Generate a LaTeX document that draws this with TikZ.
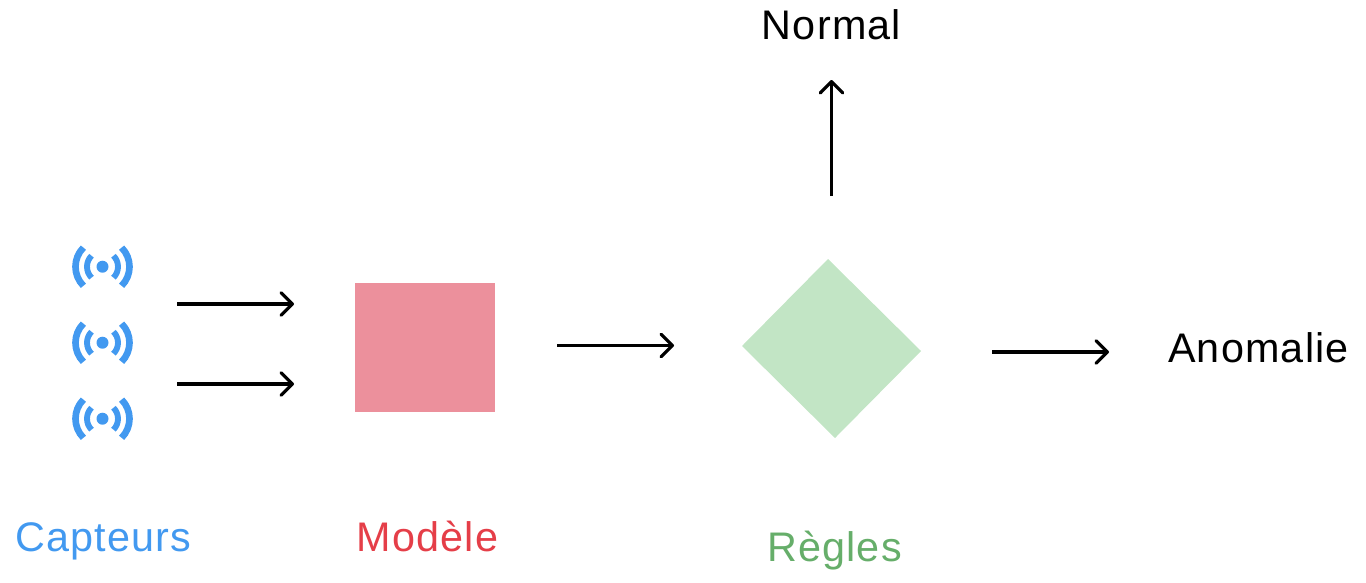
\documentclass[tikz,border=0pt]{standalone}
\usepackage{fontspec}
\setmainfont[LetterSpace=3]{Liberation Sans}
\usetikzlibrary{arrows.meta}
\definecolor{iconblue}{HTML}{4299F0}
\definecolor{squarered}{HTML}{EC909C}
\definecolor{textred}{HTML}{E53E48}
\definecolor{diagreen}{HTML}{C2E5C5}
\definecolor{textgreen}{HTML}{66AE6A}
\tikzset{
  flow/.style={line width=2.4pt,-{Straight Barb[length=8.6pt,width=17pt,line width=2.4pt,round]}},
  lab/.style={inner sep=0pt,anchor=base,font=\fontsize{31pt}{36pt}\selectfont},
  iconpart/.style={draw=iconblue,line cap=butt},
  pics/signal/.style={code={
    \fill[iconblue] (0,0) circle (6);
    \draw[iconpart,line width=4.4pt] (45:15.5) arc[start angle=45,end angle=-45,radius=15.5];
    \draw[iconpart,line width=4.4pt] (135:15.5) arc[start angle=135,end angle=225,radius=15.5];
    \draw[iconpart,line width=5pt] (45:27) arc[start angle=45,end angle=-45,radius=27];
    \draw[iconpart,line width=5pt] (135:27) arc[start angle=135,end angle=225,radius=27];
  }}
}
\begin{document}
\begin{tikzpicture}[x=0.75pt,y=-0.75pt]
\useasboundingbox (0,0) rectangle (1366,582);
\pic at (102.5,266.7) {signal};
\pic at (102.5,342.7) {signal};
\pic at (102.5,418.7) {signal};
\node[lab,text=iconblue] (capteurs) at (103.5,551) {Capteurs};
\node[lab,text=textred] (modele) at (427.5,551) {Modèle};
\node[lab,text=textgreen] (regles) at (834.5,561) {Règles};
\node[lab] (normal) at (831.5,39) {Normal};
\node[lab] (anomalie) at (1258.5,362) {Anomalie};
\fill[squarered] (355,283) rectangle (495,412);
\fill[diagreen] (828,259) -- (921,351) -- (835,438) -- (742,346) -- cycle;
\coordinate (a1s) at (177,304); \coordinate (a1e) at (294,304);
\coordinate (a2s) at (177,384); \coordinate (a2e) at (294,384);
\coordinate (a3s) at (557,345.5); \coordinate (a3e) at (674,345.5);
\coordinate (a4s) at (992,352); \coordinate (a4e) at (1109,352);
\coordinate (a5s) at (831.5,196); \coordinate (a5e) at (831.5,80);
\draw[flow] (a1s) -- (a1e);
\draw[flow] (a2s) -- (a2e);
\draw[flow] (a3s) -- (a3e);
\draw[flow] (a4s) -- (a4e);
\draw[flow] (a5s) -- (a5e);
\end{tikzpicture}
\end{document}
